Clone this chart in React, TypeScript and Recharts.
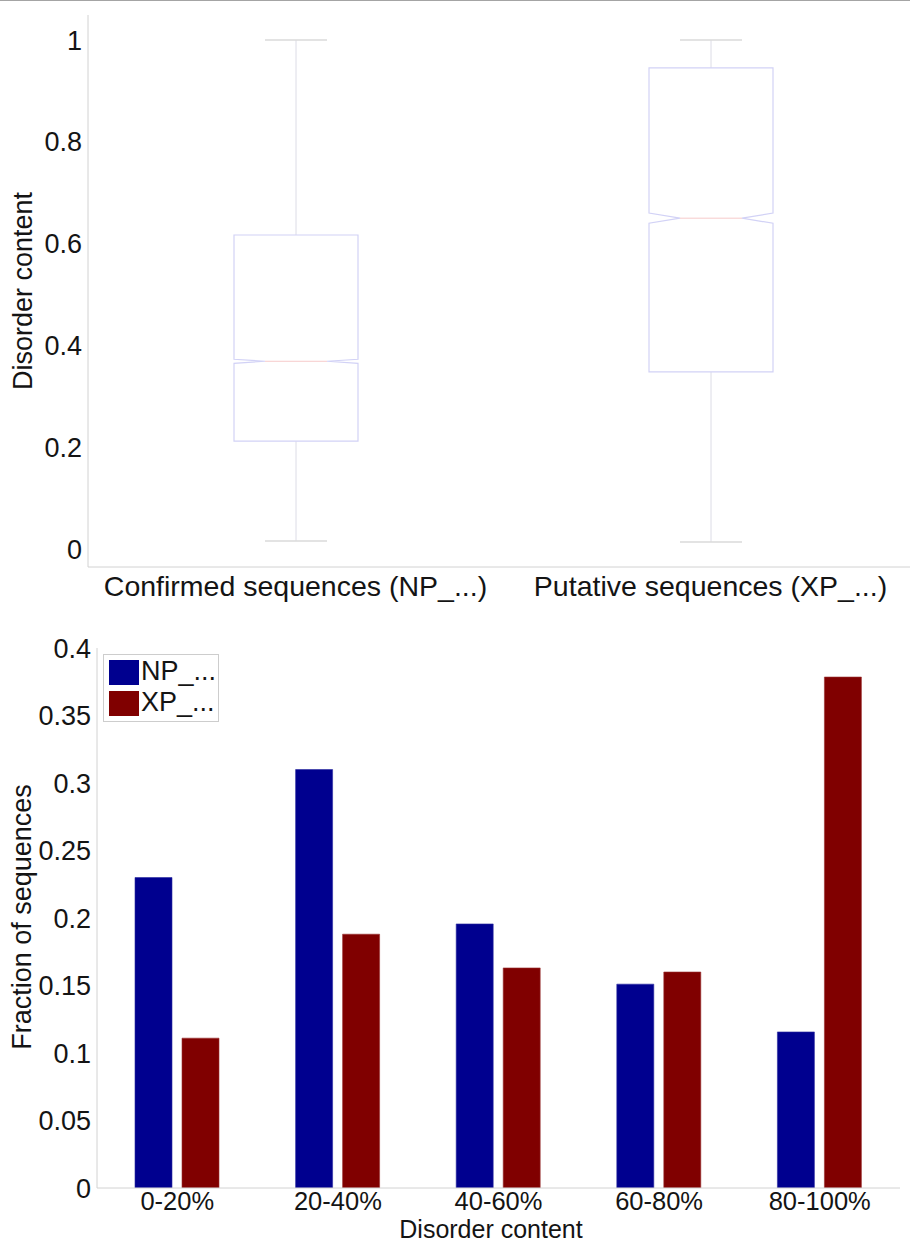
import React from 'react';
import { ComposedChart, BarChart, Bar, XAxis, YAxis, Legend } from 'recharts';

const FONT = '"Liberation Sans", Arial, Helvetica, sans-serif';
const TEXT = '#141414';
const AXIS = '#d2d2d2';

// ---- Box plot data ----
const boxCategories = ['Confirmed sequences (NP_...)', 'Putative sequences (XP_...)'];
const boxMin = [0.016, 0.014];
const boxQ1 = [0.212, 0.348];
const boxMedian = [0.369, 0.65];
const boxQ3 = [0.617, 0.945];
const boxMax = [1.0, 1.0];
const boxNotchLo = [0.365, 0.64];
const boxNotchHi = [0.373, 0.66];
const boxTicks = [0, 0.2, 0.4, 0.6, 0.8, 1];

// ---- Bar chart data ----
const barCategories = ['0-20%', '20-40%', '40-60%', '60-80%', '80-100%'];
const npValues = [0.23, 0.31, 0.1956, 0.151, 0.1156];
const xpValues = [0.111, 0.188, 0.163, 0.16, 0.3785];
const barTicks = [0, 0.05, 0.1, 0.15, 0.2, 0.25, 0.3, 0.35, 0.4];

const boxData = boxCategories.map((name, i) => ({
  name,
  range: [boxMin[i], boxMax[i]],
  min: boxMin[i],
  q1: boxQ1[i],
  median: boxMedian[i],
  q3: boxQ3[i],
  max: boxMax[i],
  notchLo: boxNotchLo[i],
  notchHi: boxNotchHi[i],
}));

const barData = barCategories.map((name, i) => ({
  name,
  np: npValues[i],
  xp: xpValues[i],
}));

const BoxShape = (props: any) => {
  const { x, y, width, height, payload } = props;
  if (!payload) return null;
  const { min, q1, median, q3, max, notchLo, notchHi } = payload;
  const top = Math.min(y, y + height);
  const h = Math.abs(height);
  const py = (v: number) => top + (h * (max - v)) / (max - min);
  const left = x;
  const right = x + width;
  const cx = x + width / 2;
  const q = width / 4;
  const boxPath = [
    `M${left},${py(q3)}`,
    `L${right},${py(q3)}`,
    `L${right},${py(notchHi)}`,
    `L${cx + q},${py(median)}`,
    `L${right},${py(notchLo)}`,
    `L${right},${py(q1)}`,
    `L${left},${py(q1)}`,
    `L${left},${py(notchLo)}`,
    `L${cx - q},${py(median)}`,
    `L${left},${py(notchHi)}`,
    'Z',
  ].join(' ');
  const whisker = '#dcdce6';
  return (
    <g>
      <line x1={cx} x2={cx} y1={py(max)} y2={py(q3)} stroke={whisker} strokeWidth={1} />
      <line x1={cx} x2={cx} y1={py(q1)} y2={py(min)} stroke={whisker} strokeWidth={1} />
      <line x1={cx - q} x2={cx + q} y1={py(max)} y2={py(max)} stroke="#dadada" strokeWidth={1.5} />
      <line x1={cx - q} x2={cx + q} y1={py(min)} y2={py(min)} stroke="#dadada" strokeWidth={1.5} />
      <path d={boxPath} fill="none" stroke="#d2d2f6" strokeWidth={1.2} />
      <line x1={cx - q} x2={cx + q} y1={py(median)} y2={py(median)} stroke="#f6caca" strokeWidth={1} />
    </g>
  );
};

const tickStyle = { fill: TEXT, fontSize: 27, fontFamily: FONT };
const catTickStyle = { fill: TEXT, fontSize: 28.5, fontFamily: FONT };
const barCatTickStyle = { fill: TEXT, fontSize: 25.5, fontFamily: FONT };

const LegendBox = (props: any) => {
  const payload = props.payload || [];
  return (
    <div
      style={{
        position: 'relative',
        width: 116,
        height: 68,
        boxSizing: 'border-box',
        border: '1px solid #cdcdcd',
        background: '#fff',
        fontFamily: FONT,
        fontSize: 27,
        color: TEXT,
      }}
    >
      {payload.map((p: any, i: number) => (
        <div key={i}>
          <div
            style={{
              position: 'absolute',
              left: 5,
              top: i === 0 ? 5 : 36,
              width: 30,
              height: 25,
              background: p.color,
            }}
          />
          <div
            style={{
              position: 'absolute',
              left: 37,
              top: i === 0 ? 1 : 32,
              lineHeight: '31px',
              whiteSpace: 'nowrap',
            }}
          >
            {p.value}
          </div>
        </div>
      ))}
    </div>
  );
};

export default function App() {
  return (
    <div
      style={{
        position: 'absolute',
        left: 0,
        top: 0,
        width: 910,
        height: 1242,
        overflow: 'hidden',
        background: '#fff',
      }}
    >
      <div style={{ position: 'absolute', left: 0, top: 0, width: 910, height: 1, background: '#a4a4a4' }} />

      {/* Top: box plot */}
      <div style={{ position: 'absolute', left: 0, top: 0 }}>
        <ComposedChart
          width={930}
          height={620}
          data={boxData}
          margin={{ top: 15, right: 12, left: 0, bottom: 0 }}
        >
          <XAxis
            dataKey="name"
            interval={0}
            tickSize={0}
            tickLine={false}
            tickMargin={9}
            height={53}
            axisLine={{ stroke: AXIS }}
            tick={catTickStyle}
          />
          <XAxis xAxisId="top" orientation="top" dataKey="name" height={0} tick={false} tickLine={false} axisLine={{ stroke: AXIS }} />
          <YAxis
            type="number"
            domain={[-0.035, 1.049]}
            ticks={boxTicks}
            allowDataOverflow
            width={88}
            tickSize={0}
            tickLine={false}
            tickMargin={6}
            axisLine={{ stroke: AXIS }}
            tick={tickStyle}
            tickFormatter={(v: number) => String(v)}
          />
          <Bar dataKey="range" barSize={124} shape={<BoxShape />} isAnimationActive={false} />
        </ComposedChart>
      </div>

      {/* Bottom: grouped bar chart */}
      <div style={{ position: 'absolute', left: 0, top: 600 }}>
        <BarChart
          width={910}
          height={642}
          data={barData}
          margin={{ top: 48, right: 10, left: 0, bottom: 0 }}
          barSize={37}
          barGap={10}
        >
          <XAxis
            dataKey="name"
            interval={0}
            tickSize={0}
            tickLine={false}
            tickMargin={4}
            height={54}
            axisLine={{ stroke: AXIS }}
            tick={barCatTickStyle}
          />
          <XAxis xAxisId="top" orientation="top" dataKey="name" height={0} tick={false} tickLine={false} axisLine={{ stroke: AXIS }} />
          <YAxis
            type="number"
            domain={[0, 0.4]}
            ticks={barTicks}
            allowDataOverflow
            width={97}
            tickSize={0}
            tickLine={false}
            tickMargin={6}
            axisLine={{ stroke: AXIS }}
            tick={tickStyle}
            tickFormatter={(v: number) => String(v)}
          />
          <YAxis yAxisId="right" orientation="right" width={0} tick={false} tickLine={false} axisLine={{ stroke: AXIS }} />
          <Legend
            layout="vertical"
            align="center"
            verticalAlign="middle"
            content={<LegendBox />}
            wrapperStyle={{ left: 103, top: 54, width: 116, height: 68 }}
          />
          <Bar dataKey="np" name="NP_..." fill="#00008f" stroke="#2a2aa0" strokeWidth={0.6} isAnimationActive={false} />
          <Bar dataKey="xp" name="XP_..." fill="#800000" stroke="#993030" strokeWidth={0.6} isAnimationActive={false} />
        </BarChart>
      </div>

      {/* Axis titles */}
      <svg
        width={910}
        height={1242}
        style={{ position: 'absolute', left: 0, top: 0, pointerEvents: 'none' }}
      >
        <text
          transform="translate(32,291) rotate(-90)"
          textAnchor="middle"
          fontFamily={FONT}
          fontSize={27}
          fill={TEXT}
        >
          Disorder content
        </text>
        <text
          transform="translate(31,917) rotate(-90)"
          textAnchor="middle"
          fontFamily={FONT}
          fontSize={27}
          fill={TEXT}
        >
          Fraction of sequences
        </text>
        <text x={491} y={1238} textAnchor="middle" fontFamily={FONT} fontSize={25} fill={TEXT}>
          Disorder content
        </text>
      </svg>
    </div>
  );
}
